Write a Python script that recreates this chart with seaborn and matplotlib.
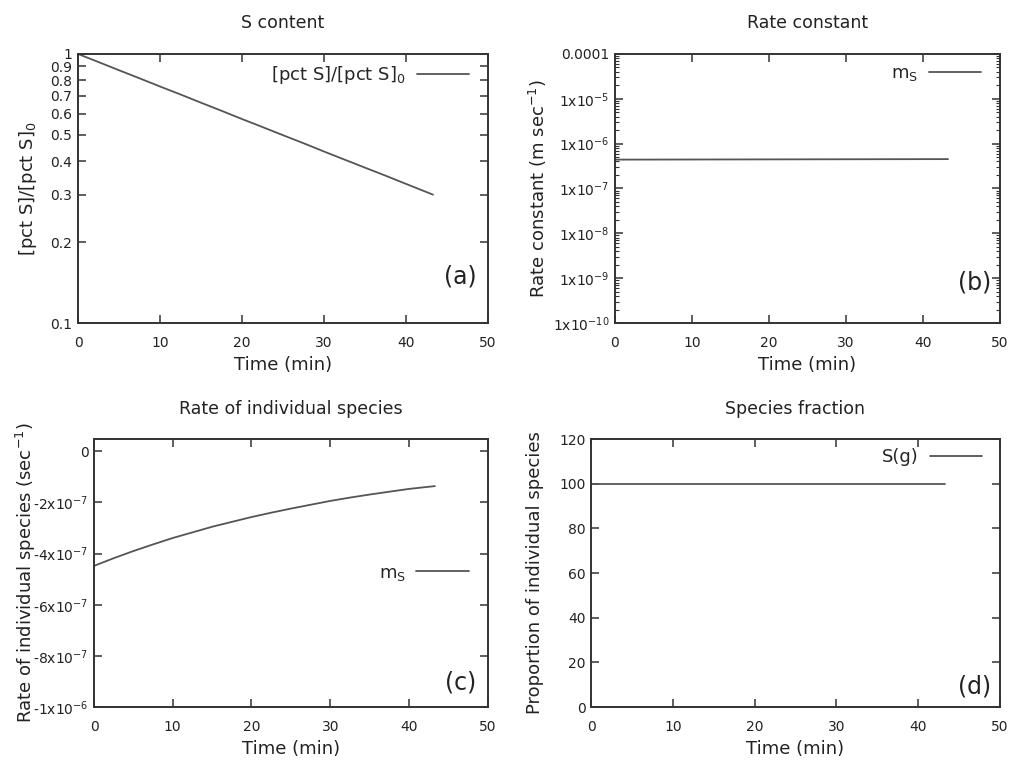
import matplotlib
matplotlib.use("Agg")
import matplotlib.pyplot as plt
import matplotlib.ticker as mticker
import seaborn as sns

sns.set_style("ticks")
plt.rcParams['font.family'] = ['DejaVu Sans']
plt.rcParams['mathtext.default'] = 'regular'

# values
time_min = [0, 2.5, 5, 7.5, 10, 12.5, 15, 17.5, 20, 22.5, 25, 27.5, 30,
            32.5, 35, 37.5, 40, 43.3]
s_ratio = [1.0, 0.933, 0.870, 0.812, 0.757, 0.707, 0.659, 0.615, 0.573,
           0.535, 0.499, 0.466, 0.434, 0.405, 0.378, 0.353, 0.329, 0.300]
rate_time = [0, 43.3]
rate_const = [4.40e-7, 4.52e-7]
species_rate = [-4.48e-7, -4.18e-7, -3.90e-7, -3.64e-7, -3.39e-7, -3.17e-7,
                -2.95e-7, -2.76e-7, -2.57e-7, -2.40e-7, -2.24e-7, -2.09e-7,
                -1.94e-7, -1.81e-7, -1.69e-7, -1.58e-7, -1.47e-7, -1.36e-7]
frac_time = [0, 43.3]
species_frac = [100, 100]

LINE = '#555555'
AXC = '#333333'
TXT = '#222222'

fig = plt.figure(figsize=(10.12, 7.6), dpi=100)
ax_a = fig.add_axes([0.0771, 0.575, 0.405, 0.354])
ax_b = fig.add_axes([0.6077, 0.575, 0.380, 0.354])
ax_c = fig.add_axes([0.0929, 0.0697, 0.389, 0.3526])
ax_d = fig.add_axes([0.584, 0.0697, 0.404, 0.3526])


def style_axes(ax, title, ylabel, letter, lx, ly, ylab_x, title_pad):
    for s in ax.spines.values():
        s.set_color(AXC)
        s.set_linewidth(1.4)
    ax.tick_params(which='major', direction='in', length=6, width=1.1, color=AXC,
                   top=True, right=True, labelsize=10, labelcolor=TXT)
    ax.tick_params(axis='x', which='major', pad=9)
    ax.tick_params(axis='y', which='major', pad=4)
    ax.tick_params(which='minor', direction='in', length=3, width=0.8, color=AXC,
                   top=True, right=True)
    ax.set_xlim(0, 50)
    ax.set_xticks([0, 10, 20, 30, 40, 50])
    ax.set_title(title, fontsize=12.5, pad=title_pad, color=TXT)
    ax.set_xlabel('Time (min)', fontsize=13, color=TXT, labelpad=5)
    ax.set_ylabel(ylabel, fontsize=13, color=TXT)
    ax.yaxis.set_label_coords(ylab_x, 0.5)
    ax.text(lx, ly, letter, transform=ax.transAxes, ha='right', va='center',
            fontsize=17, color=TXT)


def legend_right(ax, x, y):
    ax.legend(loc='center right', bbox_to_anchor=(x, y), frameon=False,
              markerfirst=False, fontsize=13, handlelength=2.9,
              borderpad=0, borderaxespad=0, handletextpad=0.6)


# (a)
sns.lineplot(x=time_min, y=s_ratio, ax=ax_a, color=LINE, linewidth=1.3,
             label='[pct S]/[pct S]$_0$')
ax_a.set_yscale('log')
ax_a.set_ylim(0.1, 1)
a_ticks = [0.1, 0.2, 0.3, 0.4, 0.5, 0.6, 0.7, 0.8, 0.9, 1]
ax_a.yaxis.set_major_locator(mticker.FixedLocator(a_ticks))
ax_a.yaxis.set_major_formatter(mticker.FixedFormatter(['0.1', '0.2', '0.3', '0.4', '0.5',
                                                       '0.6', '0.7', '0.8', '0.9', '1']))
ax_a.yaxis.set_minor_locator(mticker.NullLocator())
style_axes(ax_a, 'S content', '[pct S]/[pct S]$_0$', '(a)', 0.973, 0.171, -0.095, 19)
legend_right(ax_a, 0.954, 0.922)

# (b)
sns.lineplot(x=rate_time, y=rate_const, ax=ax_b, color=LINE, linewidth=1.3,
             label='m$_S$')
ax_b.set_yscale('log')
ax_b.set_ylim(1e-10, 1e-4)
b_ticks = [1e-10, 1e-9, 1e-8, 1e-7, 1e-6, 1e-5, 1e-4]
ax_b.yaxis.set_major_locator(mticker.FixedLocator(b_ticks))
ax_b.yaxis.set_major_formatter(mticker.FixedFormatter(
    ['1x10$^{-10}$', '1x10$^{-9}$', '1x10$^{-8}$', '1x10$^{-7}$',
     '1x10$^{-6}$', '1x10$^{-5}$', '0.0001']))
ax_b.yaxis.set_minor_locator(mticker.LogLocator(base=10, subs=range(2, 10), numticks=20))
ax_b.yaxis.set_minor_formatter(mticker.NullFormatter())
style_axes(ax_b, 'Rate constant', 'Rate constant (m sec$^{-1}$)', '(b)', 0.979, 0.152,
           -0.171, 19)
legend_right(ax_b, 0.953, 0.926)

# (c)
sns.lineplot(x=time_min, y=species_rate, ax=ax_c, color=LINE, linewidth=1.3,
             label='m$_S$')
ax_c.set_ylim(-1e-6, 0.48e-7)
c_ticks = [-1e-6, -8e-7, -6e-7, -4e-7, -2e-7, 0]
ax_c.yaxis.set_major_locator(mticker.FixedLocator(c_ticks))
ax_c.yaxis.set_major_formatter(mticker.FixedFormatter(
    ['-1x10$^{-6}$', '-8x10$^{-7}$', '-6x10$^{-7}$', '-4x10$^{-7}$', '-2x10$^{-7}$', '0']))
style_axes(ax_c, 'Rate of individual species', 'Rate of individual species (sec$^{-1}$)',
           '(c)', 0.972, 0.09, -0.142, 18)
legend_right(ax_c, 0.952, 0.50)

# (d)
sns.lineplot(x=frac_time, y=species_frac, ax=ax_d, color=LINE, linewidth=1.3,
             label='S(g)')
ax_d.set_ylim(0, 120)
ax_d.set_yticks([0, 20, 40, 60, 80, 100, 120])
style_axes(ax_d, 'Species fraction', 'Proportion of individual species', '(d)',
           0.978, 0.078, -0.115, 18)
legend_right(ax_d, 0.956, 0.933)

fig.savefig('out.png', dpi=100)
